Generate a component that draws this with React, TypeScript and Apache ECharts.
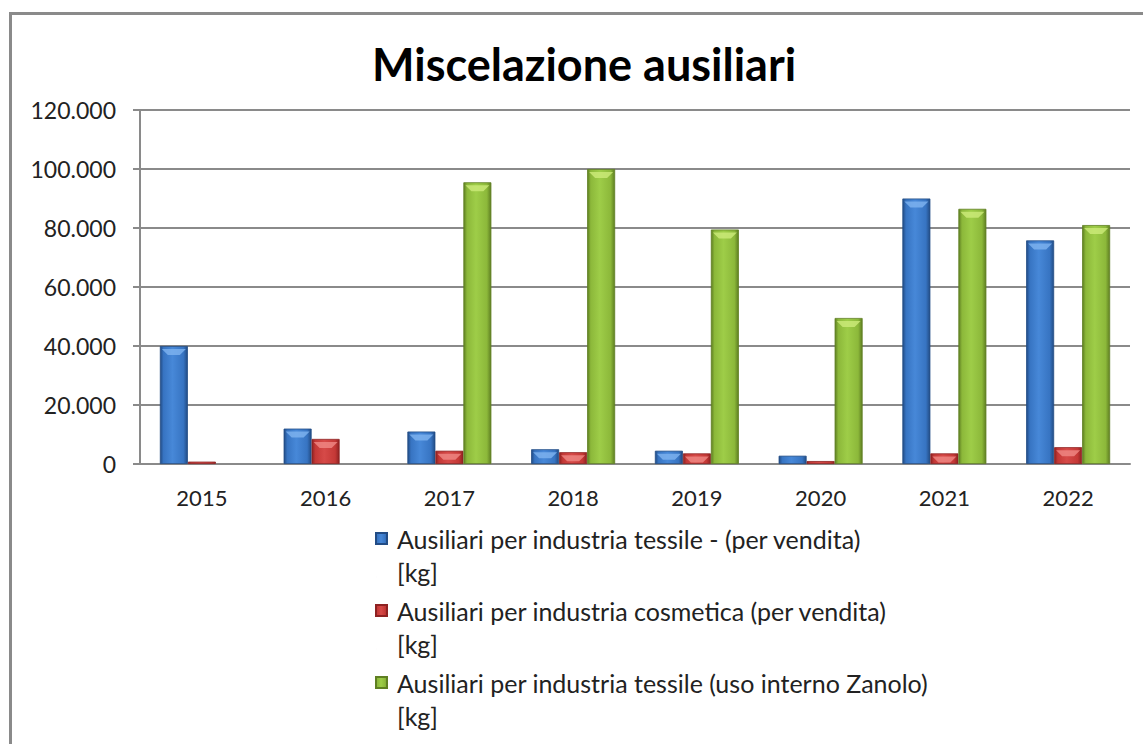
import React, { useEffect, useRef } from "react";
import * as echarts from "echarts";

const years = ["2015", "2016", "2017", "2018", "2019", "2020", "2021", "2022"];
const seriesNames = [
  "Ausiliari per industria tessile - (per vendita)\n[kg]",
  "Ausiliari per industria cosmetica (per vendita)\n[kg]",
  "Ausiliari per industria tessile (uso interno Zanolo)\n[kg]",
];
const tessileVendita = [40000, 12000, 11000, 5000, 4500, 2800, 90000, 75800];
const cosmeticaVendita = [800, 8500, 4500, 4000, 3600, 1000, 3600, 5700];
const tessileInterno = [0, 0, 95500, 100000, 79500, 49500, 86500, 81000];
const yTicks = [0, 20000, 40000, 60000, 80000, 100000, 120000];
const yTickLabels = ["0", "20.000", "40.000", "60.000", "80.000", "100.000", "120.000"];

const FONT = "Lato";

function grad(edge: string, mid: string, light: string) {
  return new echarts.graphic.LinearGradient(0, 0, 1, 0, [
    { offset: 0, color: edge },
    { offset: 0.12, color: mid },
    { offset: 0.45, color: light },
    { offset: 0.85, color: mid },
    { offset: 1, color: edge },
  ]);
}

const palette = [
  { edge: "#224c85", mid: "#3774c2", light: "#4788d8", bevel: "#7fb4f0" },
  { edge: "#8e2222", mid: "#c43836", light: "#d64a48", bevel: "#f08a86" },
  { edge: "#5f7f22", mid: "#8cb83a", light: "#9ecd48", bevel: "#cdeb7a" },
];

// legend icon: square at the top of a box two text lines tall
const legendIcon = "path://M0,0 L10,0 L10,10 L0,10 Z M0,40 L0.01,40";

export default function App() {
  const ref = useRef<HTMLDivElement>(null);
  useEffect(() => {
    if (!ref.current) return;
    const chart = echarts.init(ref.current, undefined, { renderer: "svg" });
    const dataSets = [tessileVendita, cosmeticaVendita, tessileInterno];
    const barSeries = dataSets.map((d, i) => ({
      type: "bar",
      name: seriesNames[i],
      data: d.map((v) => (v > 0 ? v : "-")),
      barWidth: 28,
      barGap: "0%",
      itemStyle: {
        color: grad(palette[i].edge, palette[i].mid, palette[i].light),
        borderColor: palette[i].edge,
        borderWidth: 0.8,
      },
    }));
    const bevelSeries = dataSets.map((d, i) => ({
      type: "pictorialBar",
      name: "bevel" + i,
      data: d.map((v) => (v > 3000 ? v : "-")),
      barWidth: 28,
      barGap: "0%",
      symbol: "path://M0,0 L20,0 L15,5 L5,5 Z",
      symbolSize: [24, 6],
      symbolPosition: "end",
      symbolOffset: [0, "50%"],
      z: 3,
      silent: true,
      itemStyle: { color: palette[i].bevel, opacity: 0.8 },
    }));
    chart.setOption({
      animation: false,
      title: {
        text: "Miscelazione ausiliari",
        left: 372,
        top: 41,
        padding: 0,
        textStyle: { fontFamily: FONT, fontWeight: "bold", fontSize: 45, color: "#000" },
      },
      graphic: [
        {
          type: "rect",
          shape: { x: 10.5, y: 13.5, width: 1300, height: 900 },
          style: { fill: "none", stroke: "#8a8a8a", lineWidth: 3 },
          silent: true,
        },
      ],
      legend: {
        orient: "vertical",
        left: 375,
        top: 522,
        padding: 0,
        data: seriesNames,
        itemWidth: 11,
        itemHeight: 44,
        itemGap: 6,
        icon: legendIcon,
        textStyle: {
          fontFamily: FONT,
          fontSize: 25,
          color: "#222",
          lineHeight: 33,
          padding: [0, 0, 0, 5],
        },
      },
      grid: { left: 140, right: 13, top: 110, bottom: 280, containLabel: false },
      xAxis: {
        type: "category",
        data: years,
        axisLine: { lineStyle: { color: "#8a8a8a", width: 2 } },
        axisTick: { length: 8, lineStyle: { color: "#8a8a8a", width: 2 } },
        axisLabel: { fontFamily: FONT, fontSize: 22, color: "#222", margin: 22 },
      },
      yAxis: {
        type: "value",
        min: 0,
        max: 120000,
        interval: 20000,
        axisLine: { show: true, lineStyle: { color: "#8a8a8a", width: 2 } },
        axisTick: { show: true, length: 7, lineStyle: { color: "#8a8a8a", width: 2 } },
        splitLine: { lineStyle: { color: "#8a8a8a", width: 2 } },
        axisLabel: {
          fontFamily: FONT,
          fontSize: 23,
          color: "#222",
          margin: 24,
          formatter: (v: number) => {
            const idx = yTicks.indexOf(v);
            return idx >= 0 ? yTickLabels[idx] : String(v);
          },
        },
      },
      series: [...barSeries, ...bevelSeries],
    });
    return () => chart.dispose();
  }, []);
  return (
    <div
      ref={ref}
      style={{ position: "fixed", left: 0, top: 0, width: 1143, height: 744, background: "#fff" }}
    />
  );
}
